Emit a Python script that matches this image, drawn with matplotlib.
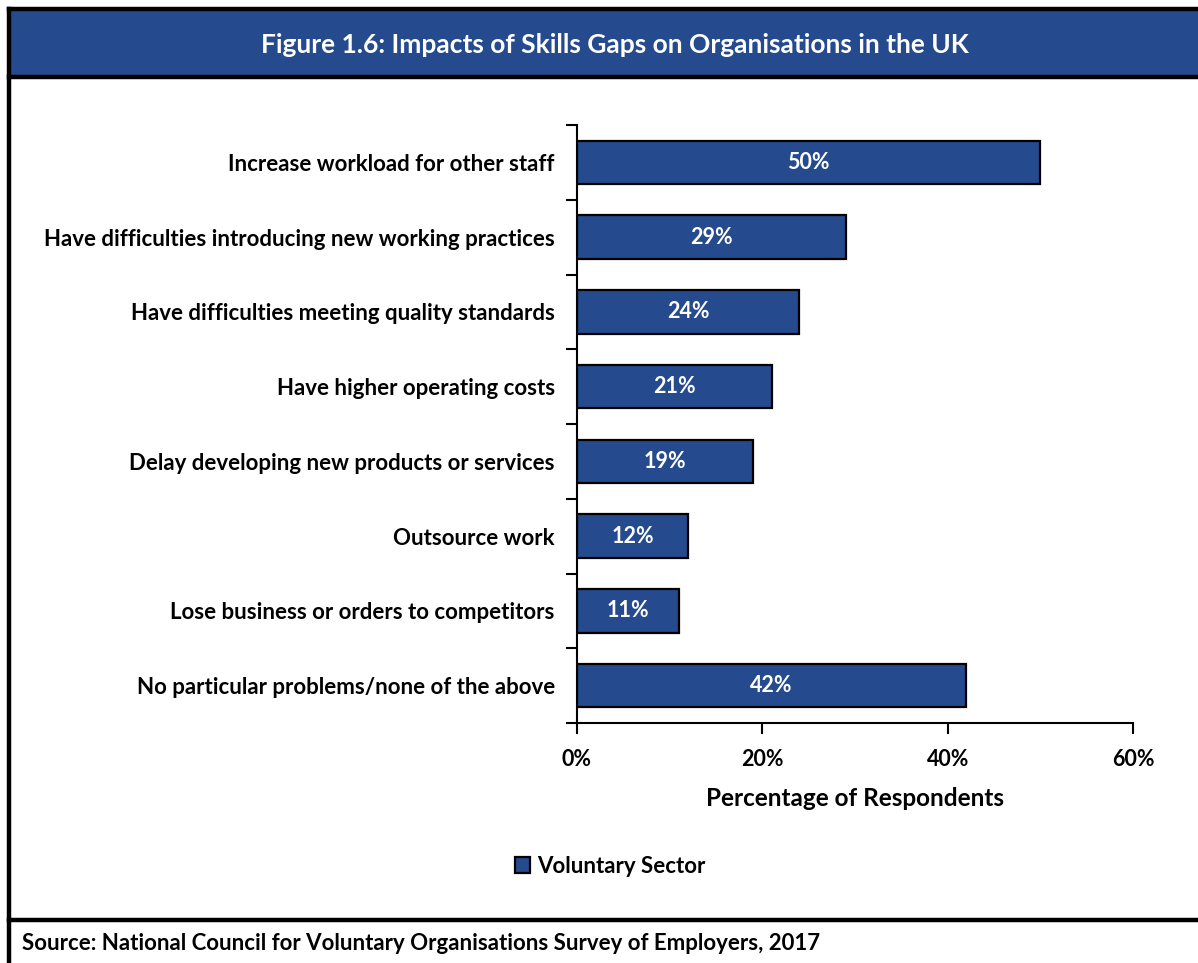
import matplotlib.pyplot as plt
from matplotlib.patches import Rectangle
from matplotlib.lines import Line2D

plt.rcParams['font.family'] = ['Lato', 'DejaVu Sans']
plt.rcParams['font.weight'] = 'bold'

# Survey results
categories = [
    'Increase workload for other staff',
    'Have difficulties introducing new working practices',
    'Have difficulties meeting quality standards',
    'Have higher operating costs',
    'Delay developing new products or services',
    'Outsource work',
    'Lose business or orders to competitors',
    'No particular problems/none of the above',
]
values = [50, 29, 24, 21, 19, 12, 11, 42]
xticks = [0, 20, 40, 60]
series_name = 'Voluntary Sector'

blue = '#254A8E'
W, H = 1198, 963

fig = plt.figure(figsize=(W / 100, H / 100), dpi=100)

def fx(px):
    return px / W

def fy(py):
    return 1 - py / H

# title banner and frame
fig.patches.append(Rectangle((fx(9), fy(77)), fx(W - 9), fy(9) - fy(77),
                             transform=fig.transFigure, facecolor=blue,
                             edgecolor='none', zorder=0))
for xs, ys in [([9, 9], [9, H]), ([9, W], [9, 9]), ([9, W], [77, 77]),
               ([9, W], [920, 920])]:
    fig.lines.append(Line2D([fx(x) for x in xs], [fy(y) for y in ys],
                            transform=fig.transFigure, color='black', lw=3.2))

fig.text(fx(615), fy(45), 'Figure 1.6: Impacts of Skills Gaps on Organisations in the UK',
         color='white', fontsize=19, fontweight='bold', ha='center', va='center')
fig.text(fx(22), fy(943), 'Source: National Council for Voluntary Organisations Survey of Employers, 2017',
         color='black', fontsize=16, fontweight='bold', ha='left', va='center')

ax = fig.add_axes([fx(577), fy(723), fx(1133) - fx(577), fy(125) - fy(723)])
y = range(len(categories))
bars = ax.barh(y, values, height=0.58, color=blue, edgecolor='black',
               linewidth=1.6, label=series_name)
for b, v in zip(bars, values):
    ax.text(v / 2, b.get_y() + b.get_height() / 2, f'{v}%', color='white',
            ha='center', va='center', fontsize=15.5, fontweight='bold')

ax.set_ylim(len(categories) - 0.5, -0.5)
ax.set_xlim(0, 60)
ax.set_yticks(list(y))
ax.set_yticklabels(categories, fontsize=16, fontweight='bold')
ax.set_yticks([k - 0.5 for k in range(len(categories) + 1)], minor=True)
ax.tick_params(axis='y', which='major', length=0, pad=16)
ax.tick_params(axis='y', which='minor', length=8, width=1.5, direction='out')
ax.set_xticks(xticks)
ax.set_xticklabels([f'{t}%' for t in xticks], fontsize=15.5, fontweight='bold')
ax.tick_params(axis='x', length=8, width=1.5, direction='out', pad=11)
ax.set_xlabel('Percentage of Respondents', fontsize=17.5, fontweight='bold', labelpad=12)
for s in ['top', 'right']:
    ax.spines[s].set_visible(False)
for s in ['left', 'bottom']:
    ax.spines[s].set_linewidth(1.5)

fig.legend(handles=[bars], labels=[series_name], loc='center',
           bbox_to_anchor=(fx(610), fy(866)), frameon=False, fontsize=16,
           handlelength=0.7, handleheight=0.7, handletextpad=0.3)

fig.savefig('out.png', dpi=100)
